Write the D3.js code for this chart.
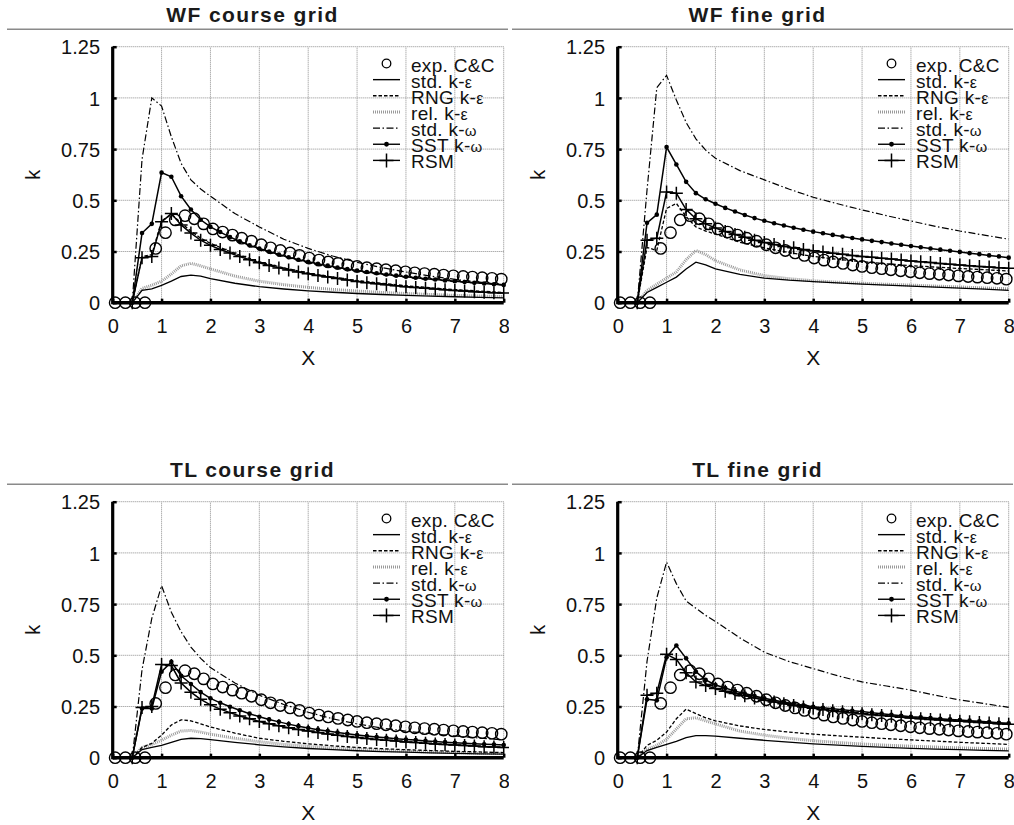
<!DOCTYPE html>
<html>
<head>
<meta charset="utf-8">
<script src="https://cdn.jsdelivr.net/npm/d3@7"></script>
<style>
  html, body { margin: 0; padding: 0; background: #fff; }
  svg { display: block; font-family: "Liberation Sans", Arial, Helvetica, sans-serif; }
</style>
</head>
<body>
<script>
// ---------------- DATA ----------------
const panelTitles = ["WF course grid", "WF fine grid", "TL course grid", "TL fine grid"];
const legendNames = ["exp. C&C", "std. k-ε", "RNG k-ε", "rel. k-ε", "std. k-ω", "SST k-ω", "RSM"];
const xTicks = [0, 1, 2, 3, 4, 5, 6, 7, 8];
const yTicks = [0, 0.25, 0.5, 0.75, 1, 1.25];
const yTickLabels = ["0", "0.25", "0.5", "0.75", "1", "1.25"];

// experiment (same in every panel)
const xExp = [0.05,0.26,0.46,0.66,0.88,1.08,1.28,1.48,1.67,1.86,2.05,2.25,2.45,2.64,2.84,3.04,3.23,3.43,3.63,3.82,4.02,4.22,4.41,4.61,4.81,5.00,5.20,5.40,5.59,5.79,5.99,6.18,6.38,6.58,6.77,6.97,7.17,7.36,7.56,7.76,7.95];
const kExp = [0,0,0,0,0.265,0.342,0.404,0.425,0.41,0.385,0.36,0.345,0.33,0.315,0.30,0.283,0.268,0.255,0.243,0.231,0.218,0.208,0.199,0.192,0.184,0.177,0.171,0.166,0.161,0.156,0.151,0.146,0.142,0.139,0.135,0.131,0.128,0.125,0.122,0.119,0.115];

// x stations for the marker series (SST, RSM) and for the plain lines
const xSim = [0.4,0.6,0.8,1.0,1.2,1.4,1.6,1.8,2.0,2.2,2.4,2.6,2.8,3.0,3.2,3.4,3.6,3.8,4.0,4.2,4.4,4.6,4.8,5.0,5.2,5.4,5.6,5.8,6.0,6.2,6.4,6.6,6.8,7.0,7.2,7.4,7.6,7.8,8.0];
const xLine = [0.4,0.6,0.8,1.0,1.2,1.4,1.6,1.8,2.0,2.5,3,3.5,4,4.5,5,5.5,6,6.5,7,7.5,8];

// WF course grid
const wfCourseStdKE = [0,0.06,0.068,0.085,0.105,0.128,0.135,0.13,0.118,0.095,0.078,0.067,0.058,0.051,0.045,0.04,0.036,0.032,0.029,0.026,0.024];
const wfCourseRNG   = [0,0.225,0.235,0.40,0.43,0.39,0.35,0.315,0.29,0.24,0.2,0.17,0.145,0.125,0.108,0.095,0.083,0.073,0.064,0.057,0.05];
const wfCourseRel   = [0,0.07,0.085,0.105,0.14,0.18,0.192,0.18,0.165,0.13,0.105,0.088,0.075,0.065,0.057,0.05,0.045,0.04,0.036,0.033,0.03];
const wfCourseStdKW = [0,0.70,1.0,0.96,0.81,0.68,0.60,0.555,0.52,0.435,0.37,0.31,0.265,0.228,0.197,0.172,0.15,0.13,0.114,0.1,0.088];
const wfCourseSST   = [0,0.34,0.385,0.635,0.615,0.52,0.455,0.405,0.37,0.345,0.32,0.30,0.28,0.265,0.25,0.235,0.222,0.21,0.2,0.19,0.181,0.172,0.164,0.157,0.15,0.144,0.138,0.132,0.127,0.122,0.117,0.113,0.109,0.105,0.101,0.097,0.094,0.09,0.087];
const wfCourseRSM   = [0,0.22,0.225,0.395,0.435,0.38,0.34,0.305,0.28,0.26,0.243,0.225,0.21,0.195,0.182,0.17,0.16,0.15,0.141,0.133,0.125,0.118,0.111,0.104,0.098,0.093,0.088,0.083,0.078,0.074,0.07,0.067,0.063,0.06,0.057,0.054,0.051,0.049,0.047];

// WF fine grid
const wfFineStdKE = [0,0.05,0.075,0.1,0.125,0.165,0.198,0.185,0.165,0.138,0.12,0.11,0.103,0.097,0.091,0.086,0.081,0.076,0.071,0.066,0.06];
const wfFineRNG   = [0,0.27,0.255,0.46,0.485,0.42,0.37,0.35,0.335,0.295,0.268,0.245,0.226,0.212,0.2,0.19,0.181,0.174,0.167,0.161,0.155];
const wfFineRel   = [0,0.06,0.09,0.12,0.15,0.21,0.255,0.235,0.205,0.16,0.132,0.117,0.107,0.1,0.095,0.09,0.086,0.081,0.077,0.072,0.068];
const wfFineStdKW = [0,0.55,1.05,1.11,0.99,0.88,0.80,0.745,0.705,0.645,0.60,0.555,0.515,0.483,0.453,0.425,0.399,0.373,0.35,0.33,0.31];
const wfFineSST   = [0,0.39,0.43,0.76,0.675,0.59,0.535,0.505,0.483,0.463,0.445,0.428,0.413,0.40,0.388,0.377,0.366,0.356,0.347,0.339,0.331,0.323,0.316,0.309,0.302,0.296,0.289,0.283,0.277,0.271,0.265,0.259,0.254,0.248,0.242,0.237,0.231,0.226,0.22];
const wfFineRSM   = [0,0.305,0.315,0.54,0.535,0.455,0.41,0.385,0.365,0.348,0.333,0.32,0.305,0.294,0.284,0.275,0.268,0.26,0.254,0.248,0.242,0.237,0.231,0.226,0.222,0.217,0.213,0.208,0.204,0.2,0.196,0.192,0.188,0.184,0.18,0.177,0.174,0.171,0.168];

// TL course grid
const tlCourseStdKE = [0,0.04,0.05,0.06,0.075,0.09,0.095,0.093,0.088,0.075,0.063,0.053,0.045,0.039,0.034,0.03,0.027,0.024,0.021,0.019,0.017];
const tlCourseRNG   = [0,0.05,0.07,0.11,0.16,0.185,0.18,0.165,0.15,0.12,0.095,0.08,0.068,0.058,0.05,0.044,0.039,0.035,0.031,0.028,0.025];
const tlCourseRel   = [0,0.05,0.065,0.085,0.11,0.13,0.133,0.125,0.115,0.095,0.078,0.065,0.055,0.047,0.041,0.036,0.032,0.028,0.025,0.022,0.02];
const tlCourseStdKW = [0,0.43,0.68,0.84,0.71,0.615,0.54,0.485,0.44,0.365,0.305,0.26,0.222,0.19,0.165,0.145,0.13,0.117,0.106,0.096,0.087];
const tlCourseSST   = [0,0.24,0.24,0.42,0.468,0.40,0.36,0.32,0.29,0.268,0.249,0.232,0.215,0.2,0.187,0.175,0.164,0.154,0.145,0.137,0.13,0.123,0.117,0.111,0.106,0.101,0.097,0.093,0.089,0.086,0.082,0.079,0.076,0.073,0.071,0.068,0.066,0.064,0.062];
const tlCourseRSM   = [0,0.245,0.25,0.455,0.45,0.365,0.32,0.285,0.258,0.237,0.22,0.204,0.19,0.177,0.166,0.156,0.146,0.138,0.13,0.123,0.116,0.11,0.104,0.099,0.094,0.089,0.085,0.081,0.077,0.074,0.07,0.067,0.065,0.062,0.059,0.057,0.054,0.052,0.05];

// TL fine grid
const tlFineStdKE = [0,0.035,0.05,0.065,0.08,0.098,0.108,0.108,0.105,0.095,0.085,0.076,0.068,0.061,0.055,0.05,0.046,0.042,0.039,0.036,0.033];
const tlFineRNG   = [0,0.06,0.085,0.125,0.19,0.237,0.215,0.195,0.18,0.155,0.138,0.125,0.115,0.107,0.1,0.093,0.087,0.081,0.075,0.07,0.065];
const tlFineRel   = [0,0.04,0.06,0.09,0.14,0.19,0.195,0.18,0.165,0.13,0.11,0.095,0.083,0.074,0.067,0.061,0.056,0.052,0.048,0.045,0.042];
const tlFineStdKW = [0,0.47,0.78,0.955,0.85,0.765,0.73,0.695,0.665,0.585,0.515,0.47,0.435,0.40,0.37,0.35,0.33,0.305,0.282,0.264,0.246];
const tlFineSST   = [0,0.285,0.28,0.49,0.548,0.485,0.42,0.38,0.355,0.34,0.325,0.313,0.301,0.29,0.281,0.272,0.264,0.256,0.249,0.244,0.239,0.234,0.229,0.225,0.22,0.215,0.21,0.205,0.2,0.197,0.194,0.19,0.187,0.184,0.181,0.178,0.174,0.171,0.168];
const tlFineRSM   = [0,0.305,0.315,0.505,0.48,0.415,0.37,0.352,0.338,0.325,0.313,0.302,0.291,0.281,0.272,0.263,0.255,0.248,0.241,0.235,0.229,0.224,0.219,0.214,0.21,0.206,0.202,0.198,0.194,0.19,0.187,0.184,0.181,0.178,0.175,0.172,0.169,0.166,0.163];

// --------------- BUILD ----------------
const panels = [
  { title: panelTitles[0], stdKE: wfCourseStdKE, rng: wfCourseRNG, rel: wfCourseRel, stdKW: wfCourseStdKW, sst: wfCourseSST, rsm: wfCourseRSM },
  { title: panelTitles[1], stdKE: wfFineStdKE,   rng: wfFineRNG,   rel: wfFineRel,   stdKW: wfFineStdKW,   sst: wfFineSST,   rsm: wfFineRSM },
  { title: panelTitles[2], stdKE: tlCourseStdKE, rng: tlCourseRNG, rel: tlCourseRel, stdKW: tlCourseStdKW, sst: tlCourseSST, rsm: tlCourseRSM },
  { title: panelTitles[3], stdKE: tlFineStdKE,   rng: tlFineRNG,   rel: tlFineRel,   stdKW: tlFineStdKW,   sst: tlFineSST,   rsm: tlFineRSM }
];

const W = 1014, H = 825;
const svg = d3.select("body").append("svg").attr("width", W).attr("height", H);
svg.append("defs").append("clipPath").attr("id", "panelClip")
  .append("rect").attr("x", 0).attr("y", 0).attr("width", 509).attr("height", 455);

const plusPath = (s) => `M${-s},0H${s}M0,${-s}V${s}`;
const zip = (xs, ys) => xs.map((x, i) => [x, ys[i]]);

panels.forEach((p, i) => {
  const ox = (i % 2) * 505, oy = Math.floor(i / 2) * 455;
  const outer = svg.append("g").attr("transform", `translate(${ox},${oy})`);
  const g = outer.append("g").attr("clip-path", "url(#panelClip)");

  const x = d3.scaleLinear().domain([0, 8]).range([112.7, 503.7]);
  const y = d3.scaleLinear().domain([0, 1.25]).range([302.7, 46.7]);

  // title + rule
  g.append("text").attr("x", 252.5).attr("y", 22).attr("text-anchor", "middle")
    .attr("font-size", 21).attr("font-weight", "bold").attr("letter-spacing", 1.4)
    .attr("fill", "#1a1a1a").text(p.title);
  g.append("line").attr("x1", 7).attr("x2", 508).attr("y1", 29.3).attr("y2", 29.3)
    .attr("stroke", "#8a8a8a").attr("stroke-width", 1.5);

  // grid (dotted), including top and right borders
  const grid = g.append("g").attr("stroke", "#8c8c8c").attr("stroke-width", 1).attr("stroke-dasharray", "1,1");
  xTicks.filter(v => v > 0).forEach(v => {
    grid.append("line").attr("x1", x(v)).attr("x2", x(v)).attr("y1", y(0)).attr("y2", y(1.25));
  });
  yTicks.filter(v => v > 0).forEach(v => {
    grid.append("line").attr("x1", x(0)).attr("x2", x(8)).attr("y1", y(v)).attr("y2", y(v));
  });

  const line = d3.line().x(d => x(d[0])).y(d => y(d[1]));

  // rel. k-eps (grey dotted thick)
  g.append("path").datum(zip(xLine, p.rel)).attr("d", line)
    .attr("fill", "none").attr("stroke", "#9a9a9a").attr("stroke-width", 3).attr("stroke-dasharray", "1,1");
  // std. k-eps (solid)
  g.append("path").datum(zip(xLine, p.stdKE)).attr("d", line)
    .attr("fill", "none").attr("stroke", "#000").attr("stroke-width", 1.3);
  // RNG k-eps (dashed)
  g.append("path").datum(zip(xLine, p.rng)).attr("d", line)
    .attr("fill", "none").attr("stroke", "#000").attr("stroke-width", 1.3).attr("stroke-dasharray", "3.5,2");
  // std. k-omega (dash-dot)
  g.append("path").datum(zip(xLine, p.stdKW)).attr("d", line)
    .attr("fill", "none").attr("stroke", "#000").attr("stroke-width", 1.2).attr("stroke-dasharray", "7,2.5,1.5,2.5");
  // SST k-omega (solid + dots)
  const sstData = zip(xSim, p.sst);
  g.append("path").datum(sstData).attr("d", line)
    .attr("fill", "none").attr("stroke", "#000").attr("stroke-width", 1.5);
  g.append("g").selectAll("circle").data(sstData).join("circle")
    .attr("cx", d => x(d[0])).attr("cy", d => y(d[1])).attr("r", 2.3).attr("fill", "#000");
  // RSM (solid + plus)
  const rsmData = zip(xSim, p.rsm);
  g.append("path").datum(rsmData).attr("d", line)
    .attr("fill", "none").attr("stroke", "#000").attr("stroke-width", 1.5);
  g.append("g").selectAll("path").data(rsmData).join("path")
    .attr("transform", d => `translate(${x(d[0])},${y(d[1])})`)
    .attr("d", plusPath(6.5)).attr("stroke", "#000").attr("stroke-width", 1.5).attr("fill", "none");
  // experiment (open circles)
  g.append("g").selectAll("circle").data(zip(xExp, kExp)).join("circle")
    .attr("cx", d => x(d[0])).attr("cy", d => y(d[1])).attr("r", 5.7)
    .attr("fill", "none").attr("stroke", "#000").attr("stroke-width", 1.4);

  // axes (labels + inward ticks)
  const ax = g.append("g").attr("transform", `translate(0,${y(0)})`)
    .call(d3.axisBottom(x).tickValues(xTicks).tickFormat(d3.format("d")).tickSizeInner(-4).tickSizeOuter(0).tickPadding(16.5));
  const ay = g.append("g").attr("transform", `translate(${x(0)},0)`)
    .call(d3.axisLeft(y).tickValues(yTicks).tickFormat((d, j) => yTickLabels[j]).tickSizeInner(-4).tickSizeOuter(0).tickPadding(12.7));
  [ax, ay].forEach(a => {
    a.select(".domain").remove();
    a.selectAll(".tick line").attr("stroke", "#000").attr("stroke-width", 2.5);
    a.selectAll(".tick text").attr("font-size", 20).attr("fill", "#111")
      .attr("font-family", "'Liberation Sans', Arial, sans-serif");
  });
  ay.selectAll(".tick text").attr("dy", "0.36em");

  // thick axis lines
  g.append("line").attr("x1", x(0)).attr("x2", x(0)).attr("y1", y(0) + 1.5).attr("y2", y(1.25))
    .attr("stroke", "#000").attr("stroke-width", 3.2);
  g.append("line").attr("x1", x(0)).attr("x2", x(8)).attr("y1", y(0)).attr("y2", y(0))
    .attr("stroke", "#000").attr("stroke-width", 3.5);

  // axis titles
  g.append("text").attr("x", (x(0) + x(8)) / 2).attr("y", 365).attr("text-anchor", "middle")
    .attr("font-size", 21).attr("fill", "#111").text("X");
  g.append("text").attr("transform", `translate(40,${(y(0) + y(1.25)) / 2}) rotate(-90)`)
    .attr("text-anchor", "middle").attr("font-size", 20).attr("fill", "#111").text("k");

  // legend
  const lg = g.append("g");
  legendNames.forEach((name, j) => {
    const base = 71.5 + 16.15 * j;
    const sy = base - 8;
    const t = lg.append("text").attr("x", 411).attr("y", base).attr("font-size", 19)
      .attr("letter-spacing", 0.3).attr("fill", "#111");
    const last = name.slice(-1);
    if (last === "ε" || last === "ω") {
      t.append("tspan").text(name.slice(0, -1));
      t.append("tspan").attr("font-size", last === "ω" ? 15 : 16).text(last);
    } else {
      t.text(name);
    }
    const x1 = 373, x2 = 400, xc = 386.5;
    if (j === 0) {
      lg.append("circle").attr("cx", xc).attr("cy", sy).attr("r", 4.3)
        .attr("fill", "none").attr("stroke", "#000").attr("stroke-width", 1.3);
    } else {
      const ln = lg.append("line").attr("x1", x1).attr("x2", x2).attr("y1", sy).attr("y2", sy)
        .attr("stroke", "#000").attr("stroke-width", 1.4).attr("fill", "none");
      if (j === 2) ln.attr("stroke-dasharray", "3.5,2");
      if (j === 3) ln.attr("stroke", "#9a9a9a").attr("stroke-width", 3).attr("stroke-dasharray", "1,1");
      if (j === 4) ln.attr("stroke-dasharray", "7,2.5,1.5,2.5");
      if (j === 5) lg.append("circle").attr("cx", xc).attr("cy", sy).attr("r", 2.4).attr("fill", "#000");
      if (j === 6) lg.append("path").attr("transform", `translate(${xc},${sy})`).attr("d", plusPath(7))
        .attr("stroke", "#000").attr("stroke-width", 1.5);
    }
  });
});
</script>
</body>
</html>
